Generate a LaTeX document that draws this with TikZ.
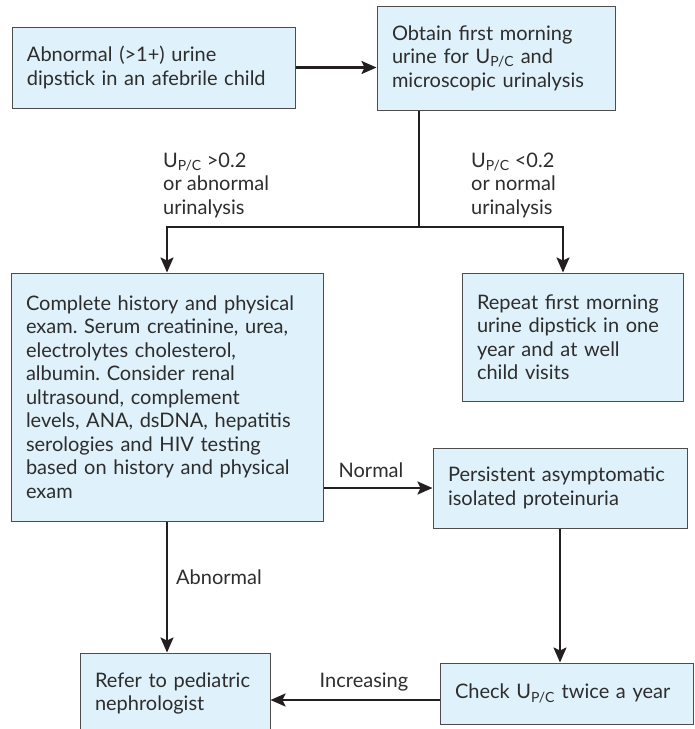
\documentclass[tikz,border=0pt]{standalone}
\usepackage{fontspec}
\setmainfont{Lato}
\usetikzlibrary{arrows.meta}
\definecolor{boxfill}{RGB}{223,241,250}
\definecolor{ink}{RGB}{35,31,32}
\definecolor{txt}{RGB}{45,45,45}
\frenchspacing

\begin{document}
\begin{tikzpicture}[x=1pt,y=-1pt,
  font=\fontsize{20}{23.5}\selectfont,
  box/.style={draw=ink!80,line width=1pt,fill=boxfill,text=txt,align=left,inner xsep=15pt,inner ysep=0pt},
  lbl/.style={text=txt,align=left,inner sep=0pt},
  ln/.style={draw=ink,line width=2.2pt},
  arr/.style={ln,-{Stealth[length=15pt,width=13pt,inset=3pt]}}]
\useasboundingbox (0,0) rectangle (695,729);
\node[box,minimum width=283,minimum height=81,text width=253] (abn) at (153.5,67.5) {Abnormal (>1+) urine\\dipstick in an afebrile child};
\node[box,minimum width=238,minimum height=104,text width=208] (obtain) at (496,58) {Obtain first morning\\urine for U\textsubscript{P/C} and\\microscopic urinalysis};
\node[box,minimum width=312,minimum height=248,text width=282] (workup) at (167,397) {Complete history and physical\\exam. Serum creatinine, urea,\\electrolytes cholesterol,\\albumin. Consider renal\\ultrasound, complement\\levels, ANA, dsDNA, hepatitis\\serologies and HIV testing\\based on history and physical\\exam};
\node[box,minimum width=221,minimum height=128,text width=191] (repeat) at (572.5,337) {Repeat first morning\\urine dipstick in one\\year and at well\\child visits};
\node[box,minimum width=254,minimum height=80,text width=224] (persist) at (560,488) {Persistent asymptomatic\\isolated proteinuria};
\node[box,minimum width=253,minimum height=61,text width=223] (check) at (566.5,693.5) {Check U\textsubscript{P/C} twice a year};
\node[box,minimum width=190,minimum height=81,text width=160] (refer) at (175,693.5) {Refer to pediatric\\nephrologist};

\coordinate (split) at (419,227);
\coordinate (rgt) at (563,227);
\coordinate (incy) at (440,700);
\draw[arr] (abn.east) -- (abn.east -| obtain.west);
\draw[ln] (obtain.south -| split) -- (split);
\draw[arr] (split) -| (workup.north);
\draw[arr] (split) -- (rgt) -- (rgt |- repeat.north);
\draw[arr] (workup.east |- persist.west) -- (persist.west);
\draw[arr] (persist.south) -- (persist.south |- check.north);
\draw[arr] (workup.south) -- (workup.south |- refer.north);
\draw[arr] (check.west |- incy) -- (refer.east |- incy);

\node[lbl,anchor=west] (hi) at (163,185) {U\textsubscript{P/C} >0.2\\or abnormal\\urinalysis};
\node[lbl,anchor=west] (lo) at (471,185) {U\textsubscript{P/C} <0.2\\or normal\\urinalysis};
\node[lbl] (nrm) at (371,470) {Normal};
\node[lbl,anchor=west] (abl) at (176,577) {Abnormal};
\node[lbl] (incr) at (364,682) {Increasing};
\end{tikzpicture}
\end{document}
